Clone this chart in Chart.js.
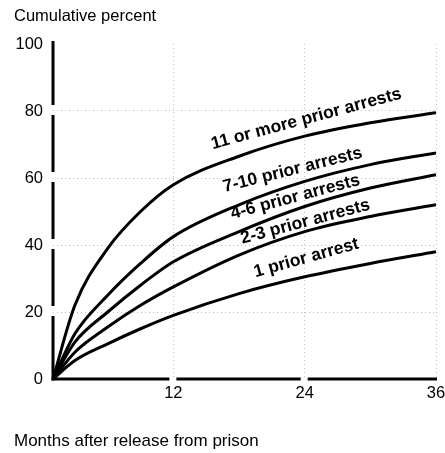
<!DOCTYPE html>
<html><head><meta charset="utf-8">
<script src="https://cdn.jsdelivr.net/npm/chart.js@4/dist/chart.umd.min.js"></script>
<style>html,body{margin:0;padding:0;background:#fff}#c{display:block}</style>
</head><body>
<canvas id="c" width="445" height="453"></canvas>
<script>
// ---- data ----
const months = [1, 3, 6, 9, 12, 18, 24, 30, 36];
const s11plus = [0, 22, 39, 50, 58, 66.5, 72.5, 76.5, 79.5];
const s7to10  = [0, 13.5, 25, 34.5, 42.5, 52, 59, 64, 67.5];
const s4to6   = [0, 11, 20, 28, 35, 44, 51.5, 57, 61];
const s2to3   = [0, 8, 15.5, 22, 27.5, 37, 44, 48.5, 52];
const s1      = [0, 5.5, 10.5, 15, 19, 25.5, 30.5, 34.5, 38];
const seriesNames = ['11 or more prior arrests', '7-10 prior arrests', '4-6 prior arrests', '2-3 prior arrests', '1 prior arrest'];
const xTicks = [12, 24, 36];
const yTicks = [0, 20, 40, 60, 80, 100];
const yTitle = 'Cumulative percent';
const xTitle = 'Months after release from prison';

// label placement (data coords of text centre + rotation), separate from data
const labelSpots = [
  {m: 24.15, v: 77.6, a: -15},
  {m: 22.9,  v: 62.4, a: -14},
  {m: 23.15, v: 54.3, a: -15},
  {m: 24.06, v: 46.9, a: -15},
  {m: 24.15, v: 36.1, a: -15.5}
];

const allSeries = [s11plus, s7to10, s4to6, s2to3, s1];
const FONT = '"Liberation Sans", Arial, Helvetica, sans-serif';

const datasets = allSeries.map((vals, i) => ({
  label: seriesNames[i],
  data: months.map((m, j) => ({x: m, y: vals[j]})),
  borderColor: '#000',
  borderWidth: 3,
  pointRadius: 0,
  fill: false,
  cubicInterpolationMode: 'monotone'
}));

const decorPlugin = {
  id: 'decor',
  afterDraw(chart) {
    const ctx = chart.ctx;
    const xs = chart.scales.x, ys = chart.scales.y;
    const ca = chart.chartArea;
    ctx.save();
    ctx.strokeStyle = '#000';
    ctx.lineWidth = 3;
    ctx.lineCap = 'butt';
    // y axis with small gaps at interior ticks
    const yGaps = yTicks.filter(v => v > 0 && v < 100).map(v => ys.getPixelForValue(v)).sort((a,b)=>a-b);
    let yStart = ca.top - 3;
    ctx.beginPath();
    yGaps.forEach(g => { ctx.moveTo(ca.left, yStart); ctx.lineTo(ca.left, g - 6); yStart = g + 4; });
    ctx.moveTo(ca.left, yStart); ctx.lineTo(ca.left, ca.bottom + 1.5);
    ctx.stroke();
    // x axis
    const xGaps = xTicks.filter(v => v < 36).map(v => xs.getPixelForValue(v));
    let xStart = ca.left - 1.5;
    ctx.beginPath();
    xGaps.forEach(g => { ctx.moveTo(xStart, ca.bottom); ctx.lineTo(g - 4, ca.bottom); xStart = g + 3; });
    ctx.moveTo(xStart, ca.bottom); ctx.lineTo(ca.right + 1, ca.bottom);
    ctx.stroke();
    // titles
    ctx.fillStyle = '#000';
    ctx.textAlign = 'left';
    ctx.textBaseline = 'middle';
    ctx.font = '16.5px ' + FONT;
    ctx.fillText(yTitle, 14, 16);
    ctx.font = '17px ' + FONT;
    ctx.fillText(xTitle, 14, 441);
    // curve labels
    ctx.font = 'bold 17.5px ' + FONT;
    ctx.textAlign = 'center';
    labelSpots.forEach((s, i) => {
      const px = xs.getPixelForValue(s.m), py = ys.getPixelForValue(s.v);
      ctx.save();
      ctx.translate(px, py);
      ctx.rotate(s.a * Math.PI / 180);
      ctx.fillText(seriesNames[i], 0, 0);
      ctx.restore();
    });
    ctx.restore();
  }
};

new Chart(document.getElementById('c'), {
  type: 'line',
  data: {datasets},
  options: {
    responsive: false,
    devicePixelRatio: 1,
    animation: false,
    layout: {padding: {top: 44, right: 9, left: 0, bottom: 0}},
    plugins: {legend: {display: false}, tooltip: {enabled: false}, title: {display: false}},
    scales: {
      x: {
        type: 'linear', min: 1, max: 36,
        afterBuildTicks: s => { s.ticks = xTicks.map(v => ({value: v})); },
        afterFit: s => { s.height = 74; s.paddingLeft = 0; s.paddingRight = 0; },
        ticks: {color: '#000', font: {family: FONT, size: 16.5}, padding: 5, maxRotation: 0, autoSkip: false},
        grid: {drawTicks: false, color: 'rgba(0,0,0,0.25)', lineWidth: 1},
        border: {display: false, dash: [1, 3]}
      },
      y: {
        min: 0, max: 100,
        afterBuildTicks: s => { s.ticks = yTicks.map(v => ({value: v})); },
        afterFit: s => { s.width = 53; s.paddingTop = 0; s.paddingBottom = 0; },
        ticks: {color: '#000', font: {family: FONT, size: 16.5}, padding: 10},
        grid: {drawTicks: false, color: ctx => (ctx.tick && (ctx.tick.value === 0 || ctx.tick.value === 100)) ? 'rgba(0,0,0,0)' : 'rgba(0,0,0,0.25)', lineWidth: 1},
        border: {display: false, dash: [1, 3]}
      }
    }
  },
  plugins: [decorPlugin]
});
</script>
</body></html>
